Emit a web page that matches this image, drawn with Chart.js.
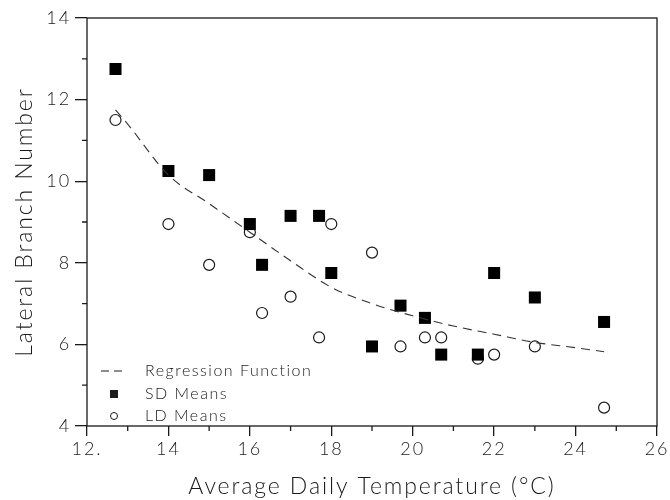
<!DOCTYPE html>
<html lang="en">
<head>
<meta charset="UTF-8">
<title>Lateral Branch Number</title>
<script src="https://cdn.jsdelivr.net/npm/chart.js@4.4.1/dist/chart.umd.min.js"></script>
<style>
  body { margin: 0; background: #fff; }
  #wrap { width: 670px; height: 500px; }
</style>
</head>
<body>
<div id="wrap"><canvas id="myChart" width="670" height="500"></canvas></div>
<script>
// SD means (filled squares)
const sdTemp   = [12.7, 14, 15, 16, 16.3, 17, 17.7, 18, 19, 19.7, 20.3, 20.7, 21.6, 22, 23, 24.7];
const sdBranch = [12.75, 10.25, 10.15, 8.95, 7.95, 9.15, 9.15, 7.75, 5.95, 6.95, 6.65, 5.75, 5.75, 7.75, 7.15, 6.55];
// LD means (open circles)
const ldTemp   = [12.7, 14, 15, 16, 16.3, 17, 17.7, 18, 19, 19.7, 20.3, 20.7, 21.6, 22, 23, 24.7];
const ldBranch = [11.5, 8.95, 7.95, 8.75, 6.77, 7.17, 6.17, 8.95, 8.25, 5.95, 6.17, 6.17, 5.65, 5.75, 5.95, 4.45];
// regression curve
const regTemp   = [12.7, 13, 14, 15, 16, 17, 18, 19, 20, 21, 22, 23, 24, 24.7];
const regBranch = [11.75, 11.4, 10.15, 9.45, 8.75, 8.05, 7.4, 7.0, 6.7, 6.45, 6.25, 6.05, 5.92, 5.82];

const xLabels = {12: '12.', 14: '14', 16: '16', 18: '18', 20: '20', 22: '22', 24: '24', 26: '26'};
const yLabels = {4: '4', 6: '6', 8: '8', 10: '10', 12: '12', 14: '14'};
const legendNames = ['Regression Function', 'SD Means', 'LD Means'];

const ink = '#1a1a1a';
const fontFam = 'Lato, "Open Sans", sans-serif';

const pts = (xs, ys) => xs.map((x, i) => ({x: x, y: ys[i]}));

// frame, minor ticks, spaced text and the inset legend
const decor = {
  id: 'decor',
  beforeDraw(chart) {
    chart.ctx.letterSpacing = '1.9px';
  },
  afterDraw(chart) {
    const ctx = chart.ctx;
    const a = chart.chartArea;
    const xs = chart.scales.x, ys = chart.scales.y;
    ctx.save();
    ctx.strokeStyle = ink;
    ctx.lineWidth = 1.3;
    ctx.strokeRect(a.left, a.top, a.right - a.left, a.bottom - a.top);
    // minor ticks on odd values
    ctx.beginPath();
    for (let v = 13; v < 26; v += 2) {
      const px = xs.getPixelForValue(v);
      ctx.moveTo(px, a.bottom); ctx.lineTo(px, a.bottom + 5);
    }
    for (let v = 5; v < 14; v += 2) {
      const py = ys.getPixelForValue(v);
      ctx.moveTo(a.left, py); ctx.lineTo(a.left - 5, py);
    }
    ctx.stroke();

    // legend inside the plot, bottom left
    const lx = a.left + 18, tx = a.left + 58;
    const rows = [a.bottom - 55, a.bottom - 32, a.bottom - 10];
    ctx.font = '300 16px ' + fontFam;
    ctx.letterSpacing = '1.5px';
    ctx.fillStyle = ink;
    ctx.textBaseline = 'middle';
    ctx.textAlign = 'left';
    legendNames.forEach((n, i) => ctx.fillText(n, tx, rows[i]));
    ctx.lineWidth = 1;
    ctx.setLineDash([8, 5]);
    ctx.beginPath();
    ctx.moveTo(lx - 4, rows[0]); ctx.lineTo(lx + 22, rows[0]);
    ctx.stroke();
    ctx.setLineDash([]);
    ctx.fillRect(lx + 5, rows[1] - 4, 8, 8);
    ctx.beginPath();
    ctx.arc(lx + 9, rows[2], 3.5, 0, Math.PI * 2);
    ctx.stroke();
    ctx.restore();
  }
};

const ctx = document.getElementById('myChart').getContext('2d');
const myChart = new Chart(ctx, {
  type: 'scatter',
  data: {
    datasets: [
      {
        label: legendNames[0],
        type: 'line',
        data: pts(regTemp, regBranch),
        borderColor: '#333',
        borderWidth: 1.1,
        borderDash: [9, 6],
        pointRadius: 0,
        fill: false,
        cubicInterpolationMode: 'monotone'
      },
      {
        label: legendNames[1],
        data: pts(sdTemp, sdBranch),
        pointStyle: 'rect',
        pointRadius: 8.5,
        backgroundColor: '#000',
        borderColor: '#000',
        borderWidth: 0
      },
      {
        label: legendNames[2],
        data: pts(ldTemp, ldBranch),
        pointStyle: 'circle',
        pointRadius: 5.5,
        backgroundColor: '#fff',
        borderColor: ink,
        borderWidth: 1.2
      }
    ]
  },
  options: {
    responsive: false,
    animation: false,
    layout: { padding: { top: 18, right: 13, left: 0, bottom: 0 } },
    plugins: { legend: { display: false }, tooltip: { enabled: false } },
    scales: {
      x: {
        type: 'linear',
        min: 12, max: 26,
        afterFit: s => { s.height = 74; },
        grid: {
          drawOnChartArea: false, tickLength: 10, lineWidth: 1.3,
          tickColor: c => (c.tick && c.tick.value % 2 === 0) ? ink : 'rgba(0,0,0,0)'
        },
        border: { display: false },
        ticks: {
          stepSize: 1, maxRotation: 0, autoSkip: false, padding: 2,
          color: ink, font: { family: fontFam, size: 18, weight: 300 },
          callback: v => xLabels[v] !== undefined ? xLabels[v] : ''
        },
        title: {
          display: true, text: 'Average Daily Temperature (°C)',
          color: ink, font: { family: fontFam, size: 23, weight: 300 },
          padding: { top: 2, bottom: 0 }
        }
      },
      y: {
        type: 'linear',
        min: 4, max: 14,
        afterFit: s => { s.width = 87; },
        grid: {
          drawOnChartArea: false, tickLength: 12, lineWidth: 1.3,
          tickColor: c => (c.tick && c.tick.value % 2 === 0) ? ink : 'rgba(0,0,0,0)'
        },
        border: { display: false },
        ticks: {
          stepSize: 1, autoSkip: false, padding: 4,
          color: ink, font: { family: fontFam, size: 18, weight: 300 },
          callback: v => yLabels[v] !== undefined ? yLabels[v] : ''
        },
        title: {
          display: true, text: 'Lateral Branch Number',
          color: ink, font: { family: fontFam, size: 23, weight: 300 },
          padding: { top: 11, bottom: 0 }
        }
      }
    }
  },
  plugins: [decor]
});
</script>
</body>
</html>
